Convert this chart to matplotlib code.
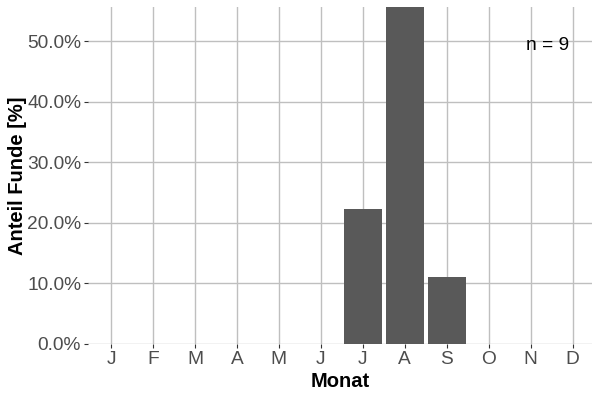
import numpy as np
import matplotlib.pyplot as plt

plt.rcParams['font.family'] = ['Liberation Sans', 'DejaVu Sans']

monate = ['J', 'F', 'M', 'A', 'M', 'J', 'J', 'A', 'S', 'O', 'N', 'D']
funde = [0, 0, 0, 0, 0, 0, 2, 5, 1, 0, 0, 0]
n = 9  # total finds, incl. one without month
anteil = np.array(funde) / n

fig = plt.figure(figsize=(6, 4), dpi=100)
ax = fig.add_axes([88/600, 56/400, 504/600, 337/400])

x = np.arange(len(monate))
ax.bar(x, anteil, width=0.9, color='#595959', zorder=2)

ax.set_xlim(-0.548, 11.46)
ax.set_ylim(0, 5/9 + 0.0007)
ax.set_xticks(x)
ax.set_xticklabels(monate)
ax.set_yticks(np.arange(0, 0.51, 0.1))
ax.set_yticklabels(['%.1f%%' % (v*100) for v in np.arange(0, 0.51, 0.1)])

ax.grid(True, color='#bfbfbf', linewidth=1.0, zorder=0)
ax.set_axisbelow(True)
for s in ax.spines.values():
    s.set_visible(False)
ax.tick_params(axis='both', colors='#333333', labelcolor='#4d4d4d',
               labelsize=13.8, length=3, width=0.8, pad=2)

ax.set_xlabel('Monat', fontsize=14.5, fontweight='bold', labelpad=3)
ax.set_ylabel('Anteil Funde [%]', fontsize=14.5, fontweight='bold', labelpad=0)

ax.text(0.955, 0.885, 'n = %d' % n, transform=ax.transAxes, ha='right',
        va='center', fontsize=13.8, color='black')

fig.savefig('out.png', dpi=100)
